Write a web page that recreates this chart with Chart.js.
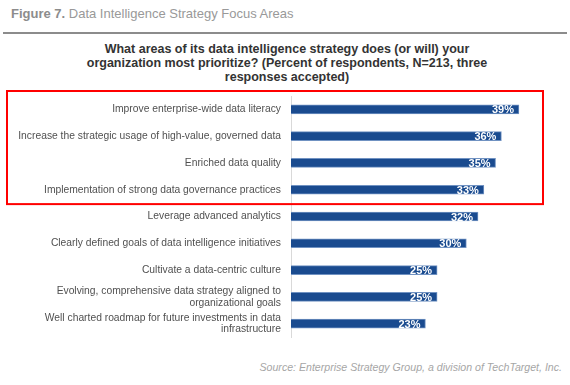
<!DOCTYPE html>
<html>
<head>
<meta charset="utf-8">
<script src="https://cdn.jsdelivr.net/npm/chart.js@4/dist/chart.umd.min.js"></script>
<style>
  body { margin: 0; background: #fff; font-family: "Liberation Sans", Arial, sans-serif; }
  #wrap { position: relative; width: 570px; height: 385px; overflow: hidden; }
  #fig { position: absolute; left: 11px; top: 6px; font-size: 13px; color: #999; }
  #fig b { color: #8c8c8c; }
  #rule { position: absolute; left: 3px; top: 32px; width: 564px; height: 2px; background: #8c8c8c; }
  #title { position: absolute; left: 2px; top: 42px; width: 570px; text-align: center;
           font-size: 12.5px; font-weight: bold; color: #333; line-height: 14px; }
  #box { position: absolute; left: 0; top: 80px; width: 570px; height: 265px; }
  #src { position: absolute; right: 8px; top: 361px; font-size: 10.6px; font-style: italic; color: #a6a6a6; }
</style>
</head>
<body>
<div id="wrap">
  <div id="fig"><b>Figure 7.</b> Data Intelligence Strategy Focus Areas</div>
  <div id="rule"></div>
  <div id="title">What areas of its data intelligence strategy does (or will) your<br>organization most prioritize? (Percent of respondents, N=213, three<br>responses accepted)</div>
  <div id="box"><canvas id="myChart" width="570" height="265"></canvas></div>
  <div id="src">Source: Enterprise Strategy Group, a division of TechTarget, Inc.</div>
</div>
<script>
var categories = [
    'Improve enterprise-wide data literacy',
    'Increase the strategic usage of high-value, governed data',
    'Enriched data quality',
    'Implementation of strong data governance practices',
    'Leverage advanced analytics',
    'Clearly defined goals of data intelligence initiatives',
    'Cultivate a data-centric culture',
    ['Evolving, comprehensive data strategy aligned to', 'organizational goals'],
    ['Well charted roadmap for future investments in data', 'infrastructure']
];
var values = [39, 36, 35, 33, 32, 30, 25, 25, 23];
var highlighted = 4; // first four rows sit in the red box

var barLabels = {
    id: 'barLabels',
    afterDatasetsDraw: function(chart) {
        var ctx = chart.ctx;
        var meta = chart.getDatasetMeta(0);
        ctx.save();
        ctx.fillStyle = '#fff';
        ctx.font = 'bold 11px "Liberation Sans", Arial, sans-serif';
        ctx.textAlign = 'right';
        ctx.textBaseline = 'middle';
        meta.data.forEach(function(bar, i) {
            ctx.fillText(values[i] + '%', bar.x - 5, bar.y + 1);
        });
        ctx.restore();
    }
};

var redBox = {
    id: 'redBox',
    afterDraw: function(chart) {
        var y = chart.scales.y;
        var step = y.getPixelForValue(1) - y.getPixelForValue(0);
        var top = y.getPixelForValue(0) - step / 2 - 5;
        var bottom = y.getPixelForValue(highlighted - 1) + step / 2 + 1;
        var ctx = chart.ctx;
        ctx.save();
        ctx.strokeStyle = '#ff0000';
        ctx.lineWidth = 2;
        ctx.strokeRect(7, top, 536, bottom - top);
        ctx.restore();
    }
};

var ctx = document.getElementById('myChart').getContext('2d');
var chart = new Chart(ctx, {
    type: 'bar',
    data: {
        labels: categories,
        datasets: [{
            data: values,
            backgroundColor: '#1a4b8f',
            borderColor: '#7092c2',
            borderWidth: 1,
            barThickness: 9
        }]
    },
    options: {
        indexAxis: 'y',
        responsive: false,
        animation: false,
        layout: { padding: { top: 16, bottom: 8, left: 0, right: 16 } },
        plugins: { legend: { display: false }, tooltip: { enabled: false } },
        scales: {
            x: { display: false, min: 0, max: 45 },
            y: {
                afterFit: function(scale) {
                    scale.width = 291;
                    scale.paddingTop = 0;
                    scale.paddingBottom = 0;
                },
                grid: { display: false, drawTicks: false },
                border: { display: true, color: '#d9d9d9' },
                ticks: {
                    autoSkip: false,
                    padding: 10,
                    color: '#505050',
                    font: { family: '"Liberation Sans", Arial, sans-serif', size: 10.3, lineHeight: 1.15 }
                }
            }
        }
    },
    plugins: [barLabels, redBox]
});
</script>
</body>
</html>
